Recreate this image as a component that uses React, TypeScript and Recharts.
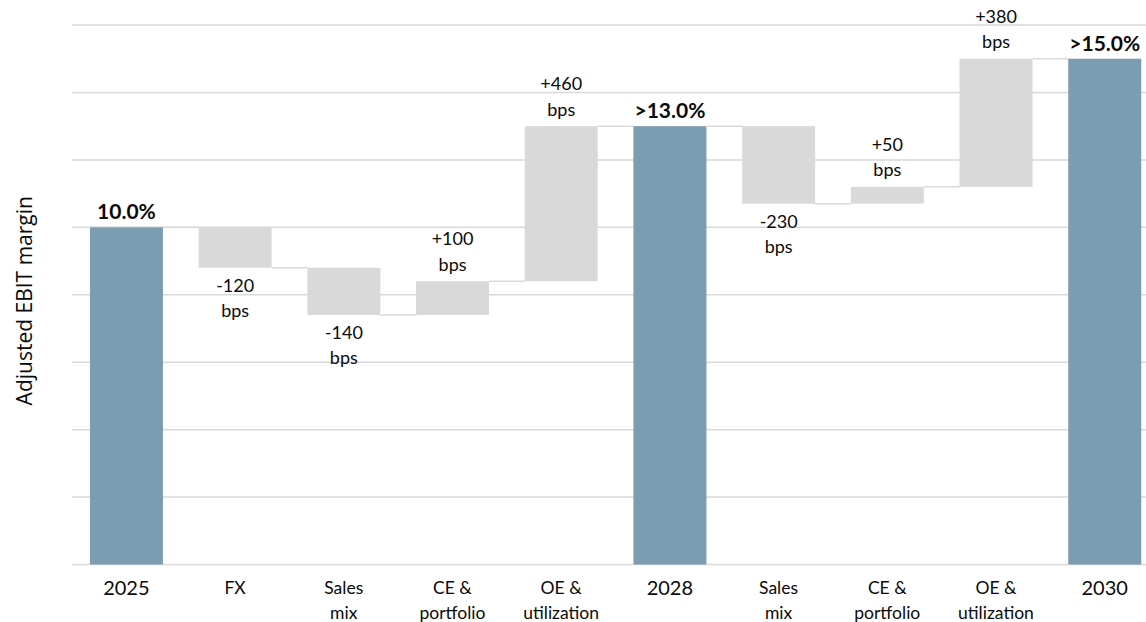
import { ComposedChart, Bar, XAxis, YAxis, CartesianGrid, LabelList } from 'recharts';

// Adjusted EBIT margin bridge 2025 -> 2028 -> 2030
const categories = [
  '2025',
  'FX',
  'Sales\nmix',
  'CE &\nportfolio',
  'OE &\nutilization',
  '2028',
  'Sales\nmix',
  'CE &\nportfolio',
  'OE &\nutilization',
  '2030',
];

// totals in %, changes in basis points (null where not applicable)
const marginPct = [10.0, null, null, null, null, 13.0, null, null, null, 15.0];
const changeBps = [null, -120, -140, 100, 460, null, -230, 50, 380, null];
const totalPrefix = ['', '', '', '', '', '>', '', '', '', '>'];

const yTicks = [0, 2, 4, 6, 8, 10, 12, 14, 16];

const FONT = 'Lato, "Open Sans", sans-serif';
const TITLE_FONT = '"Open Sans", sans-serif';
const TEXT_COLOR = '#0a0a0a';
const TOTAL_COLOR = '#7b9cb1';
const STEP_COLOR = '#d9d9d9';
const GRID_COLOR = '#d9d9d9';
const GAP = 0.165; // category gap on each side, fraction of band

type Row = {
  key: string;
  range: [number, number];
  isTotal: boolean;
  rising: boolean;
  label: string;
};

const rows: Row[] = (() => {
  let level = 0;
  return categories.map((_, i) => {
    const total = marginPct[i];
    if (total != null) {
      level = total;
      return {
        key: `c${i}`,
        range: [0, total] as [number, number],
        isTotal: true,
        rising: true,
        label: `${totalPrefix[i]}${total.toFixed(1)}%`,
      };
    }
    const bps = changeBps[i] as number;
    const start = level;
    const end = Math.round((level + bps / 100) * 100) / 100;
    level = end;
    return {
      key: `c${i}`,
      range: [Math.min(start, end), Math.max(start, end)] as [number, number],
      isTotal: false,
      rising: bps > 0,
      label: `${bps > 0 ? '+' : ''}${bps}`,
    };
  });
})();

// bar plus the connector running to the next bar at the closing level
const BridgeBar = (props: any) => {
  const { x, y, width, height, index } = props;
  const row = rows[index];
  const top = Math.min(y, y + height);
  const bottom = Math.max(y, y + height);
  const h = Math.abs(height);
  const level = row.isTotal || row.rising ? top : bottom;
  const gap = (width * 2 * GAP) / (1 - 2 * GAP);
  return (
    <g>
      <rect x={x} y={top} width={width} height={h} fill={row.isTotal ? TOTAL_COLOR : STEP_COLOR} />
      {index < rows.length - 1 && (
        <line x1={x + width} x2={x + width + gap} y1={level} y2={level} stroke={GRID_COLOR} strokeWidth={1.5} />
      )}
    </g>
  );
};

const BarLabel = (props: any) => {
  const { x, y, width, height, index } = props;
  const row = rows[index];
  const cx = x + width / 2;
  const top = Math.min(y, y + height);
  const bottom = Math.max(y, y + height);
  if (row.isTotal) {
    return (
      <text x={cx} y={top - 16.5} textAnchor="middle" dominantBaseline="central" fontFamily={FONT} fontSize={21} fontWeight={700} fill={TEXT_COLOR}>
        {row.label}
      </text>
    );
  }
  const first = row.rising ? top - 43 : bottom + 17;
  return (
    <text textAnchor="middle" dominantBaseline="central" fontFamily={FONT} fontSize={18} fill={TEXT_COLOR}>
      <tspan x={cx} y={first}>{row.label}</tspan>
      <tspan x={cx} y={first + 25.5}>bps</tspan>
    </text>
  );
};

const CategoryTick = (props: any) => {
  const { x, y, payload } = props;
  const i = payload.index;
  const lines = categories[i].split('\n');
  const big = marginPct[i] != null;
  return (
    <text textAnchor="middle" dominantBaseline="central" fontFamily={FONT} fontSize={big ? 20 : 17.5} fill={TEXT_COLOR}>
      {lines.map((t, k) => (
        <tspan key={k} x={x} y={y + 22.5 + k * 25}>{t}</tspan>
      ))}
    </text>
  );
};

const NoTick = () => <g />;

const AxisTitle = (props: any) => {
  const { viewBox } = props;
  const cx = viewBox.x + 24;
  const cy = viewBox.y + viewBox.height / 2 + 6;
  return (
    <text x={cx} y={cy} transform={`rotate(-90, ${cx}, ${cy})`} textAnchor="middle" dominantBaseline="central" fontFamily={TITLE_FONT} fontSize={21} fill={TEXT_COLOR}>
      Adjusted EBIT margin
    </text>
  );
};

export default function App() {
  return (
    <div style={{ position: 'absolute', left: 0, top: 0, width: 1146, height: 622, overflow: 'hidden', background: '#fff' }}>
      <ComposedChart
        width={1160}
        height={622}
        data={rows}
        margin={{ top: 25, right: 1, left: 0, bottom: 0 }}
        barCategoryGap={`${GAP * 100}%`}
      >
        <CartesianGrid vertical={false} stroke={GRID_COLOR} strokeWidth={1.5} />
        <XAxis
          dataKey="key"
          axisLine={false}
          tickLine={false}
          tickSize={0}
          tickMargin={0}
          height={57.5}
          interval={0}
          tick={<CategoryTick />}
        />
        <YAxis
          type="number"
          domain={[0, 16]}
          ticks={yTicks}
          interval={0}
          axisLine={false}
          tickLine={false}
          tick={<NoTick />}
          width={72}
          label={<AxisTitle />}
        />
        <Bar dataKey="range" shape={<BridgeBar />} isAnimationActive={false}>
          <LabelList dataKey="range" content={<BarLabel />} />
        </Bar>
      </ComposedChart>
    </div>
  );
}
